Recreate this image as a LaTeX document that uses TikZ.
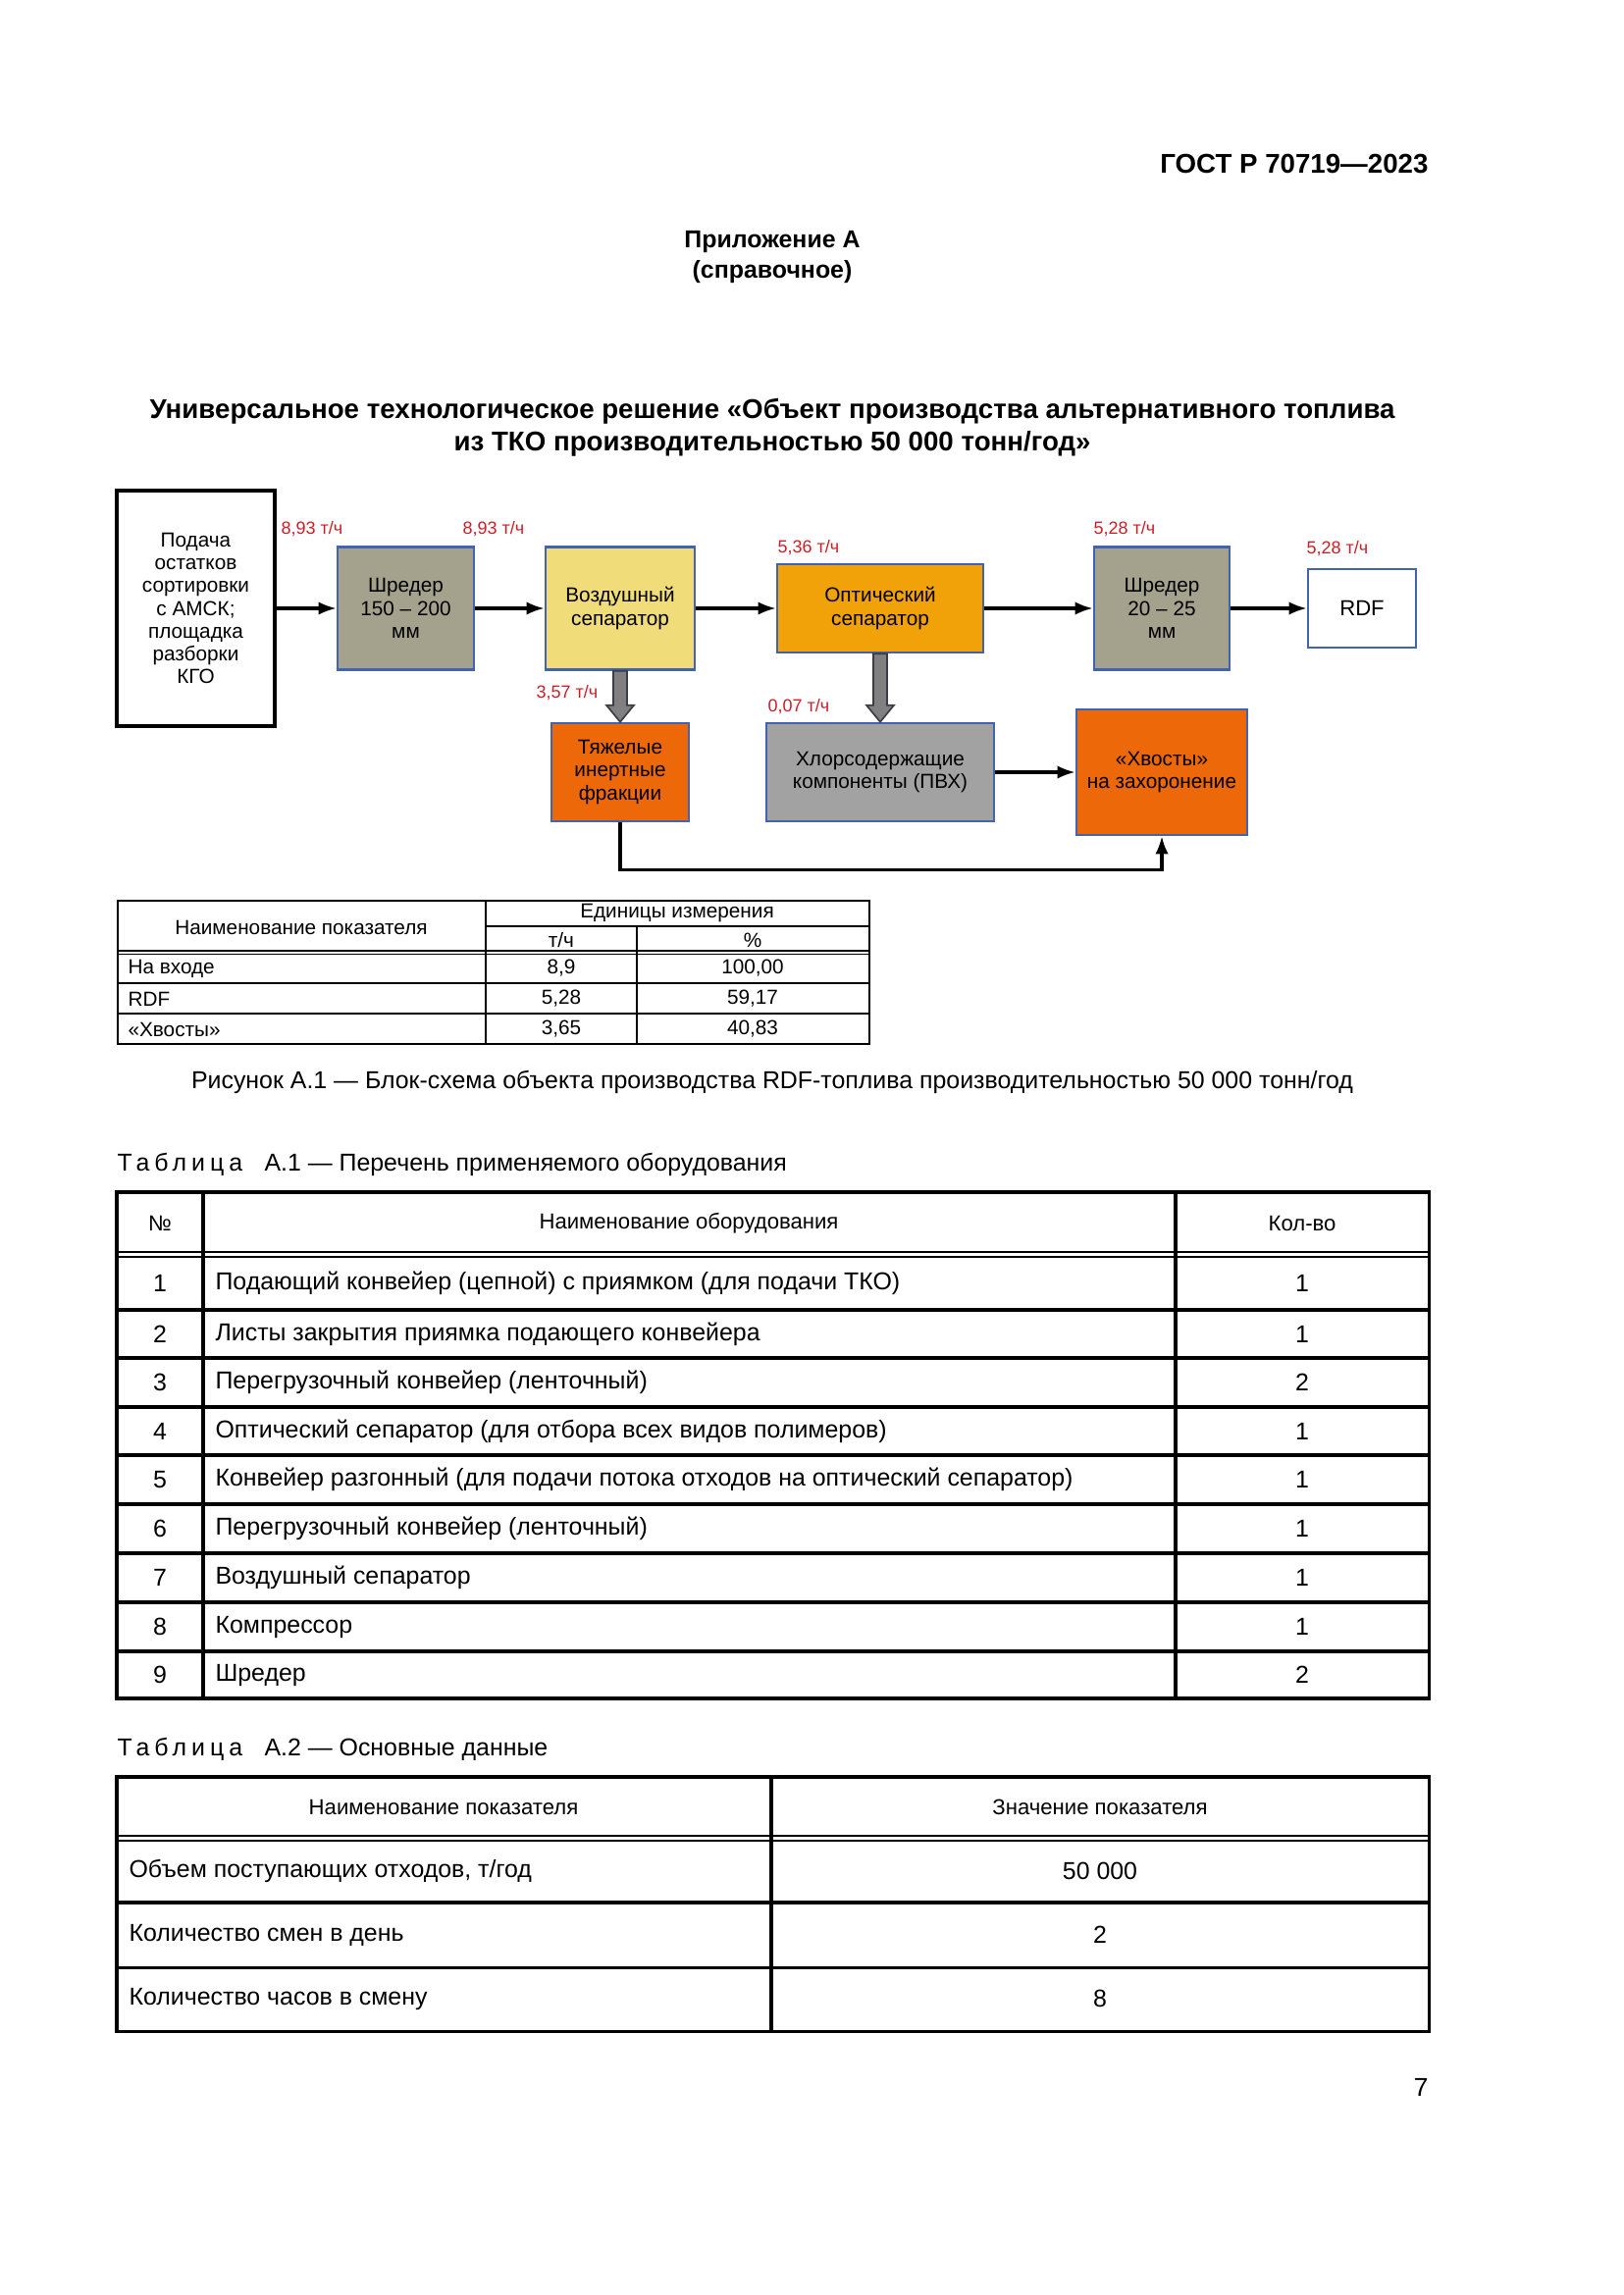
\documentclass[tikz,border=0pt]{standalone}
\usepackage{fontspec}
\setmainfont{Liberation Sans}
\newfontfamily\spaced[LetterSpace=20]{Liberation Sans}
\usetikzlibrary{arrows.meta,calc}

\definecolor{frame}{RGB}{66,98,178}
\definecolor{shred}{RGB}{164,162,140}
\definecolor{airc}{RGB}{240,220,120}
\definecolor{optc}{RGB}{240,162,8}
\definecolor{hot}{RGB}{236,104,8}
\definecolor{chlc}{RGB}{162,162,162}
\definecolor{flowred}{RGB}{204,30,40}
\definecolor{arrgray}{RGB}{128,128,128}
\definecolor{arrdark}{RGB}{60,60,70}

\begin{document}
\begin{tikzpicture}[x=0.127mm, y=-0.127mm,
  box/.style={draw=frame, line width=0.9pt, align=center, inner sep=0pt, font=\fontsize{7.5}{8.4}\selectfont},
  sz/.style 2 args={minimum width=#1*0.127mm, minimum height=#2*0.127mm},
  flow/.style={text=flowred, inner sep=0pt, font=\fontsize{6.5}{7}\selectfont},
  arr/.style={line width=1.1pt, -{Latex[length=2.3mm,width=1.7mm]}},
  blk/.style={fill=arrgray, draw=arrdark, line width=0.6pt},
  tline/.style={line width=0.6pt},
  gline/.style={line width=1.1pt},
  tiny/.style={inner sep=0pt, font=\fontsize{7.5}{9}\selectfont},
  small/.style={inner sep=0pt, font=\fontsize{8}{9}\selectfont},
  cell/.style={inner sep=0pt, font=\fontsize{9}{11}\selectfont}]

\path[use as bounding box, fill=white] (0,0) rectangle (1654,2339);

% Шапка
\node[anchor=east, inner sep=0pt, font=\fontsize{10}{12}\bfseries] (gost) at (1456,167) {ГОСТ Р 70719—2023};
\node[align=center, inner sep=0pt, font=\fontsize{9}{11.2}\bfseries] (app) at (787,262) {Приложение А\\(справочное)};
\node[align=center, inner sep=0pt, font=\fontsize{10}{11.9}\bfseries] (title) at (787,436)
  {Универсальное технологическое решение «Объект производства альтернативного топлива\\из ТКО производительностью 50 000 тонн/год»};

% Блок-схема
\node[box, sz={161}{240}, draw=black, line width=1.4pt] (in) at (199.5,620) {Подача\\остатков\\сортировки\\с АМСК;\\площадка\\разборки\\КГО};
\node[box, sz={139}{125}, fill=shred] (sh1) at (413.5,620) {Шредер\\150 – 200\\мм};
\node[box, sz={152}{125}, fill=airc] (air) at (632,620) {Воздушный\\сепаратор};
\node[box, sz={210}{90}, fill=optc] (opt) at (897,620) {Оптический\\сепаратор};
\node[box, sz={138}{125}, fill=shred] (sh2) at (1184,620) {Шредер\\20 – 25\\мм};
\node[box, sz={110}{80}, fill=white, font=\fontsize{8}{9}\selectfont] (rdf) at (1388,620) {RDF};
\node[box, sz={140}{100}, fill=hot] (heavy) at (632,787) {Тяжелые\\инертные\\фракции};
\node[box, sz={232}{100}, fill=chlc] (chl) at (897,787) {Хлорсодержащие\\компоненты (ПВХ)};
\node[box, sz={174}{128}, fill=hot] (tails) at (1184,787) {«Хвосты»\\на захоронение};

\node[flow] (f1) at (318,539) {8,93 т/ч};
\node[flow] (f2) at (503,539) {8,93 т/ч};
\node[flow] (f3) at (824,558) {5,36 т/ч};
\node[flow] (f4) at (1146,539) {5,28 т/ч};
\node[flow] (f5) at (1363,559) {5,28 т/ч};
\node[flow] (f6) at (578,706) {3,57 т/ч};
\node[flow] (f7) at (814,720) {0,07 т/ч};

\foreach \a/\b in {in/sh1, sh1/air, air/opt, opt/sh2, sh2/rdf, chl/tails}
  \draw[arr] (\a) -- (\b);
\draw[arr] (heavy.south) -- ++(0,48) -| (tails.south);

\foreach \a/\b in {air/heavy, opt/chl}
  \draw[blk] ($(\a.south)+(-7,0)$) -- ($(\b.north)+(-7,-17)$) -- ($(\b.north)+(-14,-17)$) -- (\b.north)
    -- ($(\b.north)+(14,-17)$) -- ($(\b.north)+(7,-17)$) -- ($(\a.south)+(7,0)$) -- cycle;

% Таблица на рисунке
\draw[tline] (120,918) rectangle (886,1064);
\draw[tline] (495,918) -- (495,1064) (649,944) -- (649,1064) (495,944) -- (886,944);
\draw[line width=0.4pt] (120,969) -- (886,969) (120,972.5) -- (886,972.5);
\draw[tline] (120,1002) -- (886,1002) (120,1033) -- (886,1033);
\node[tiny] (hd1) at (307,945) {Наименование показателя};
\node[tiny] (hd2) at (690,931) {Единицы измерения};
\node[tiny] (hd3) at (572,958) {т/ч};
\node[tiny] (hd4) at (767,958) {\%};
\foreach \t/\m/\p/\y [count=\i] in {На входе/{8,9}/{100,00}/987, RDF/{5,28}/{59,17}/1018, «Хвосты»/{3,65}/{40,83}/1049} {
  \node[tiny, anchor=west] (rn\i) at (130,\y) {\t};
  \node[tiny] (rm\i) at (572,\y) {\m};
  \node[tiny] (rp\i) at (767,\y) {\p};
}

\node[inner sep=0pt, font=\fontsize{9}{11}\selectfont] (cap) at (787,1103)
  {Рисунок А.1 — Блок-схема объекта производства RDF-топлива производительностью 50 000 тонн/год};

% Таблица А.1
\node[cell, anchor=west] (cap1) at (119,1187) {{\spaced Таблица}\hspace{0.9em}А.1 — Перечень применяемого оборудования};
\draw[gline] (119,1215) rectangle (1456,1731);
\draw[gline] (207,1215) -- (207,1731) (1198,1215) -- (1198,1731);
\draw[line width=0.5pt] (119,1276) -- (1456,1276) (119,1281) -- (1456,1281);
\foreach \y in {1335,1384,1434,1483,1533,1583,1633,1683}
  \draw[gline] (119,\y) -- (1456,\y);
\node[small] (h1) at (163,1247) {№};
\node[small] (h2) at (702,1247) {Наименование оборудования};
\node[small] (h3) at (1327,1247) {Кол-во};
\foreach \t/\q/\y [count=\i] in {
  Подающий конвейер (цепной) с приямком (для подачи ТКО)/1/1308,
  Листы закрытия приямка подающего конвейера/1/1360,
  Перегрузочный конвейер (ленточный)/2/1409,
  Оптический сепаратор (для отбора всех видов полимеров)/1/1459,
  Конвейер разгонный (для подачи потока отходов на оптический сепаратор)/1/1508,
  Перегрузочный конвейер (ленточный)/1/1558,
  Воздушный сепаратор/1/1608,
  Компрессор/1/1658,
  Шредер/2/1707} {
  \node[cell] (n\i) at (163,\y) {\i};
  \node[cell, anchor=west] (e\i) at (219,\y) {\t};
  \node[cell] (q\i) at (1327,\y) {\q};
}

% Таблица А.2
\node[cell, anchor=west] (cap2) at (119,1783) {{\spaced Таблица}\hspace{0.9em}А.2 — Основные данные};
\draw[gline] (119,1811) rectangle (1456,2070);
\draw[gline] (786,1811) -- (786,2070);
\draw[line width=0.5pt] (119,1871) -- (1456,1871) (119,1876) -- (1456,1876);
\draw[gline] (119,1939) -- (1456,1939) (119,2005) -- (1456,2005);
\node[small] (k1) at (452,1842) {Наименование показателя};
\node[small] (k2) at (1121,1842) {Значение показателя};
\foreach \t/\v/\y [count=\i] in {{Объем поступающих отходов, т/год}/50 000/1907, Количество смен в день/2/1972, Количество часов в смену/8/2037} {
  \node[cell, anchor=west] (d\i) at (131,\y) {\t};
  \node[cell] (v\i) at (1121,\y) {\v};
}

\node[anchor=east, inner sep=0pt, font=\fontsize{9.5}{11}\selectfont] (page) at (1456,2127) {7};
\end{tikzpicture}
\end{document}
